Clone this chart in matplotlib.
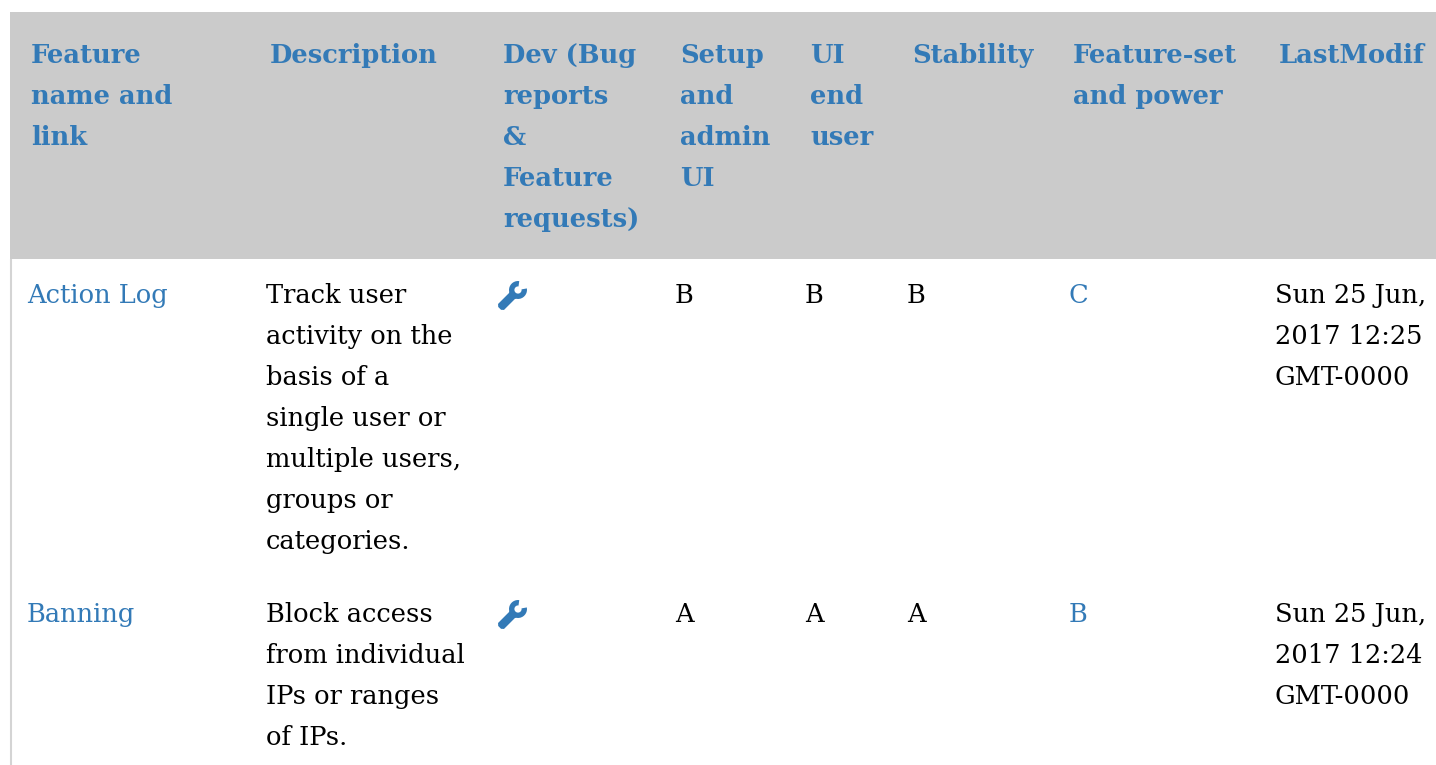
"""Feature table rendered as text on a pixel-sized canvas."""
import numpy as np
import matplotlib
matplotlib.use("Agg")
import matplotlib.pyplot as plt
from matplotlib.patches import Rectangle, PathPatch
from matplotlib.path import Path
from matplotlib.transforms import Affine2D

W, H = 1436, 765
BLUE = "#337ab7"
HEAD_BG = "#cbcbcb"
LINE_H = 41

# ---------------------------------------------------------------------------
# Table content
# ---------------------------------------------------------------------------
headers = [
    ["Feature", "name and", "link"],
    ["Description"],
    ["Dev (Bug", "reports", "&", "Feature", "requests)"],
    ["Setup", "and", "admin", "UI"],
    ["UI", "end", "user"],
    ["Stability"],
    ["Feature-set", "and power"],
    ["LastModif"],
]
head_x = [31, 270, 503, 680, 810, 912, 1073, 1279]

features = ["Action Log", "Banning"]
descriptions = [
    ["Track user", "activity on the", "basis of a", "single user or",
     "multiple users,", "groups or", "categories."],
    ["Block access", "from individual", "IPs or ranges", "of IPs."],
]
setup_grades = ["B", "A"]
ui_grades = ["B", "A"]
stability_grades = ["B", "A"]
power_grades = ["C", "B"]
last_modified = [
    ["Sun 25 Jun,", "2017 12:25", "GMT-0000"],
    ["Sun 25 Jun,", "2017 12:24", "GMT-0000"],
]

row_baseline = [303, 622]
head_baseline = 63
feature_x = 27
desc_x = 266
icon_x = 513
setup_x = 675
ui_x = 805
stab_x = 907
power_x = 1069
mod_x = 1275

plt.rcParams["font.family"] = ["DejaVu Serif"]
plt.rcParams["font.size"] = 18.5

fig = plt.figure(figsize=(W / 100, H / 100), dpi=100)
ax = fig.add_axes([0, 0, 1, 1])
ax.set_xlim(0, W)
ax.set_ylim(H, 0)
ax.axis("off")


def put_lines(x, y, lines, **kw):
    for i, line in enumerate(lines):
        ax.text(x, y + i * LINE_H, line, va="baseline", ha="left", **kw)


# ── table frame and header band ───────────────────────────────────────────
ax.add_patch(Rectangle((10, 12), W - 10, 247, fc=HEAD_BG, ec="none", zorder=0))
ax.plot([11, 11], [259, H], color="#d4d4d4", lw=1.5, solid_capstyle="butt", zorder=0)

for x, lines in zip(head_x, headers):
    put_lines(x, head_baseline, lines, color=BLUE, fontweight="bold")


# ── wrench icon, drawn in its own unit box and rotated into place ─────────
def wrench_path():
    theta = np.radians(np.arange(35, 326, 12))
    outer = np.c_[np.cos(theta), np.sin(theta)] * 9
    inner = np.c_[np.cos(theta[::-1]), np.sin(theta[::-1])] * 3.6
    head = np.vstack([outer, inner])
    handle = np.array([[-7.5, 4.2], [-24, 4.2], [-26, 2], [-26, -2], [-24, -4.2], [-7.5, -4.2]])
    verts = np.vstack([head[:13], handle, head[13:]])
    codes = [Path.MOVETO] + [Path.LINETO] * (len(verts) - 1)
    return Path(np.vstack([verts, verts[0]]), codes + [Path.CLOSEPOLY])


for y in row_baseline:
    tr = Affine2D().rotate_deg(-45).translate(icon_x + 5, y - 13) + ax.transData
    ax.add_patch(PathPatch(wrench_path(), fc=BLUE, ec="none", transform=tr))

# ── body rows ─────────────────────────────────────────────────────────────
for i, y in enumerate(row_baseline):
    ax.text(feature_x, y, features[i], color=BLUE, va="baseline")
    put_lines(desc_x, y, descriptions[i], color="black")
    ax.text(setup_x, y, setup_grades[i], color="black", va="baseline")
    ax.text(ui_x, y, ui_grades[i], color="black", va="baseline")
    ax.text(stab_x, y, stability_grades[i], color="black", va="baseline")
    ax.text(power_x, y, power_grades[i], color=BLUE, va="baseline")
    put_lines(mod_x, y, last_modified[i], color="black")

fig.savefig("out.png", dpi=100, facecolor="white")
